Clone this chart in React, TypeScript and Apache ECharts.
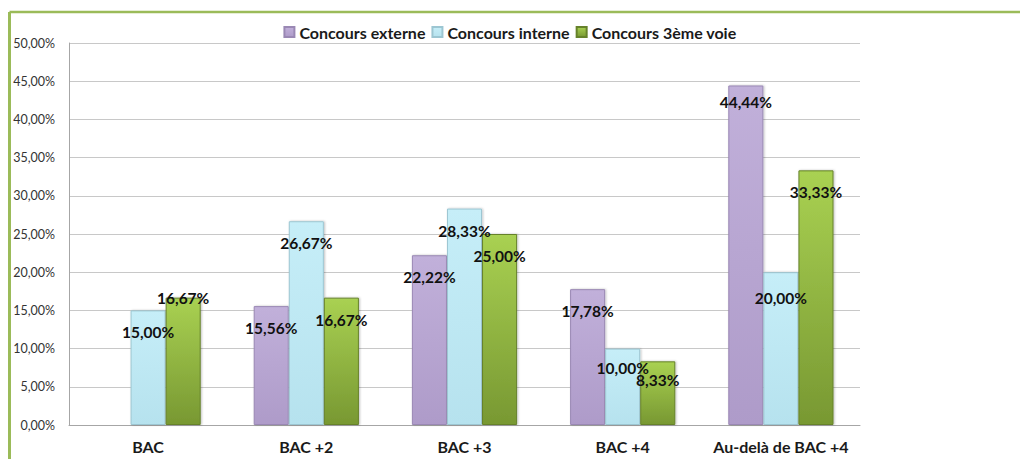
import React, { useEffect, useRef } from "react";
import * as echarts from "echarts";

const categories = ["BAC", "BAC +2", "BAC +3", "BAC +4", "Au-delà de BAC +4"];
const seriesNames = ["Concours externe", "Concours interne", "Concours 3ème voie"];
const externe = [0, 15.56, 22.22, 17.78, 44.44];
const interne = [15.0, 26.67, 28.33, 10.0, 20.0];
const troisiemeVoie = [16.67, 16.67, 25.0, 8.33, 33.33];
const yTicks = { min: 0, max: 50, interval: 5 };

// label vertical nudges (px), Excel-style manual placement
const labelNudge = [
  [0, 0, 0, 0, -5],
  [0, 0, 0, -3, 4],
  [-22, 0, 0, -3, 0],
];

const FONT = "Lato, 'Liberation Sans', sans-serif";

const styles = [
  {
    color: new echarts.graphic.LinearGradient(0, 0, 0, 1, [
      { offset: 0, color: "#C1B0DA" },
      { offset: 1, color: "#AE9BC9" },
    ]),
    borderColor: "#9A88B4",
    legend: "#B3A2C7",
  },
  {
    color: new echarts.graphic.LinearGradient(0, 0, 0, 1, [
      { offset: 0, color: "#C6EEF8" },
      { offset: 1, color: "#B6E2EE" },
    ]),
    borderColor: "#9CC6D2",
    legend: "#B7DEE8",
  },
  {
    color: new echarts.graphic.LinearGradient(0, 0, 0, 1, [
      { offset: 0, color: "#A9D152" },
      { offset: 1, color: "#789832" },
    ]),
    borderColor: "#66822A",
    legend: "#9BBB59",
  },
];

const fmt = (v: number) => v.toFixed(2).replace(".", ",") + "%";

export default function App() {
  const ref = useRef<HTMLDivElement>(null);
  useEffect(() => {
    if (!ref.current) return;
    const chart = echarts.init(ref.current, undefined, { renderer: "svg" });
    const all = [externe, interne, troisiemeVoie];
    const series = all.map((vals, si) => ({
      name: seriesNames[si],
      type: "bar",
      barGap: "0%",
      barCategoryGap: "33.5%",
      itemStyle: {
        color: styles[si].color,
        borderColor: styles[si].borderColor,
        borderWidth: 1,
        shadowColor: "rgba(0,0,0,0.25)",
        shadowBlur: 2,
        shadowOffsetX: 1,
        shadowOffsetY: 0,
      },
      label: {
        show: true,
        position: "insideTop",
        distance: 13,
        fontFamily: FONT,
        fontWeight: "bold",
        fontSize: 15.5,
        lineHeight: 18,
        color: "#111",
        formatter: (p: any) => (p.value ? fmt(p.value) : ""),
      },
      data: vals.map((v, i) => ({
        value: v,
        label: { offset: [0, labelNudge[si][i]] },
        itemStyle: v === 0 ? { borderWidth: 0, shadowBlur: 0, shadowOffsetX: 0 } : undefined,
      })),
    }));
    chart.setOption({
      animation: false,
      color: styles.map((s) => s.legend),
      legend: {
        top: 19,
        left: "center",
        icon: "rect",
        itemWidth: 10,
        itemHeight: 10,
        itemGap: 6,
        textStyle: {
          fontFamily: FONT,
          fontWeight: "bold",
          fontSize: 16,
          color: "#1a1a1a",
          padding: [0, 0, 0, 0],
        },
        data: seriesNames,
      },
      grid: { left: 69, right: 160, top: 43, bottom: 34, containLabel: false },
      xAxis: {
        type: "category",
        data: categories,
        axisLine: { show: true, lineStyle: { color: "#A6A6A6", width: 1 } },
        axisTick: { show: false },
        axisLabel: {
          interval: 0,
          fontFamily: FONT,
          fontWeight: "bold",
          fontSize: 16,
          color: "#1a1a1a",
          margin: 13,
        },
      },
      yAxis: {
        type: "value",
        min: yTicks.min,
        max: yTicks.max,
        interval: yTicks.interval,
        axisLine: { show: true, lineStyle: { color: "#A6A6A6", width: 1 } },
        axisTick: { show: false },
        splitLine: { lineStyle: { color: "#C8C8C8", width: 1 } },
        axisLabel: {
          fontFamily: FONT,
          fontSize: 12.5,
          color: "#333",
          margin: 14,
          formatter: (v: number) => fmt(v),
        },
      },
      graphic: [
        {
          type: "line",
          shape: { x1: 9.5, y1: 12, x2: 1020, y2: 12 },
          style: { stroke: "#9BBB59", lineWidth: 2.5 },
          silent: true,
        },
        {
          type: "line",
          shape: { x1: 9.5, y1: 12, x2: 9.5, y2: 459 },
          style: { stroke: "#9BBB59", lineWidth: 3 },
          silent: true,
        },
      ],
      series,
    });
    return () => chart.dispose();
  }, []);
  return (
    <div
      ref={ref}
      style={{ position: "fixed", left: 0, top: 0, width: 1020, height: 459, background: "#fff" }}
    />
  );
}
